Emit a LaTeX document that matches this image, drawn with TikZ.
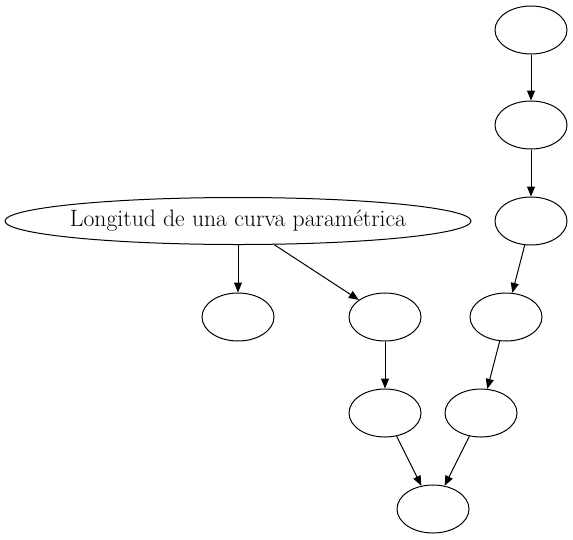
\documentclass[tikz,border=0pt]{standalone}
\usetikzlibrary{shapes.geometric,arrows.meta}
\begin{document}
\begin{tikzpicture}[x=1pt,y=-1pt,
  nd/.style={ellipse,draw,line width=1pt,minimum width=72pt,minimum height=48pt,inner sep=0pt},
  ed/.style={draw,line width=1pt,-{Triangle[length=10pt,width=8pt]}}]
\useasboundingbox (0,0) rectangle (573,539);
\node[nd] (a) at (531,30) {};
\node[nd] (b) at (531,125) {};
\node[nd] (c) at (531,221) {};
\node[nd,minimum width=466pt,minimum height=47pt] (l) at (238,221) {};
\node[inner sep=0pt] (lt) at (l.center) {\fontsize{23.7}{28}\selectfont Longitud de una curva paramétrica};
\node[nd] (d) at (238,317) {};
\node[nd] (e) at (385,317) {};
\node[nd] (f) at (506,317) {};
\node[nd] (g) at (385,413) {};
\node[nd] (h) at (481,413) {};
\node[nd] (i) at (433,509) {};
\draw[ed] (a) -- (b);
\draw[ed] (b) -- (c);
\draw[ed] (c) -- (f);
\draw[ed] (f) -- (h);
\draw[ed] (l) -- (d);
\draw[ed] (l) -- (e);
\draw[ed] (e) -- (g);
\draw[ed] (g) -- (i);
\draw[ed] (h) -- (i);
\end{tikzpicture}
\end{document}
